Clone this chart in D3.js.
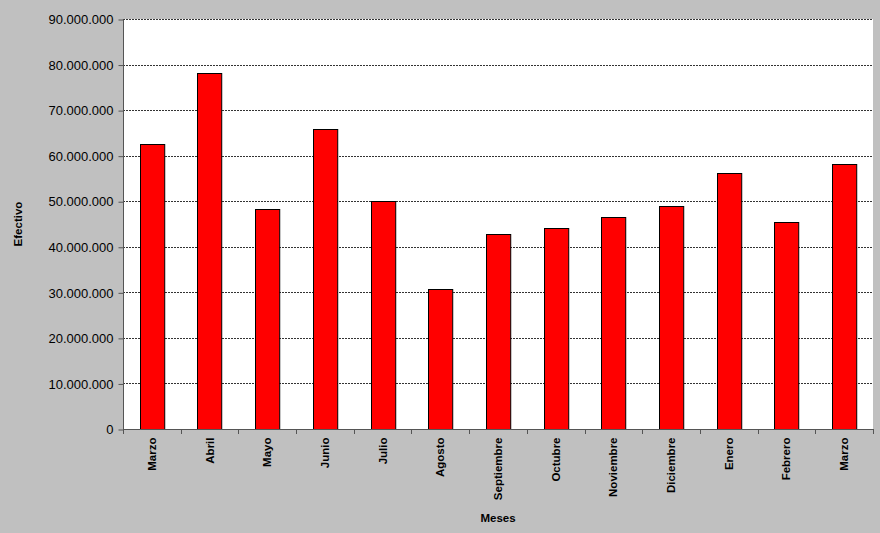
<!DOCTYPE html>
<html>
<head>
<meta charset="utf-8">
<script src="https://cdn.jsdelivr.net/npm/d3@7"></script>
<style>
body { margin: 0; background: #c0c0c0; }
svg { display: block; font-family: "Liberation Sans", Arial, sans-serif; }
</style>
</head>
<body>
<div id="chart"></div>
<script>
// months and values (Efectivo)
var meses = ['Marzo', 'Abril', 'Mayo', 'Junio', 'Julio', 'Agosto', 'Septiembre',
	'Octubre', 'Noviembre', 'Diciembre', 'Enero', 'Febrero', 'Marzo'];
var efectivo = [62600000, 78100000, 48400000, 65800000, 50000000, 30700000, 42800000,
	44100000, 46500000, 48900000, 56200000, 45400000, 58200000];
var yTicks = [0, 10000000, 20000000, 30000000, 40000000, 50000000, 60000000, 70000000, 80000000, 90000000];

var width = 880, height = 533;
var plotLeft = 123, plotRight = 873, plotTop = 19, plotBottom = 429;

var svg = d3.select('#chart').append('svg')
	.attr('width', width)
	.attr('height', height);

svg.append('rect')
	.attr('width', width)
	.attr('height', height)
	.style('fill', '#c0c0c0');

// plot area
svg.append('rect')
	.attr('x', plotLeft)
	.attr('y', plotTop)
	.attr('width', plotRight - plotLeft)
	.attr('height', plotBottom - plotTop)
	.style('fill', '#ffffff');

var x = d3.scaleBand()
	.domain(d3.range(meses.length))
	.range([plotLeft, plotRight])
	.paddingInner(0.58)
	.paddingOuter(0.29);

var xb = d3.scaleBand()
	.domain(d3.range(meses.length))
	.range([plotLeft, plotRight]);

var y = d3.scaleLinear()
	.domain([0, 90000000])
	.range([plotBottom, plotTop]);

var fmt = function(d) {
	return d3.format(',')(d).replace(/,/g, '.');
};

// gridlines
svg.append('g').selectAll('line')
	.data(yTicks.slice(1))
	.enter()
	.append('line')
	.attr('x1', plotLeft)
	.attr('x2', plotRight)
	.attr('y1', function(d) { return Math.round(y(d)) + 0.5; })
	.attr('y2', function(d) { return Math.round(y(d)) + 0.5; })
	.style('stroke', '#333')
	.style('stroke-width', 1)
	.style('stroke-dasharray', '2,1');

// bars
svg.append('g').selectAll('rect')
	.data(efectivo)
	.enter()
	.append('rect')
	.attr('x', function(d, i) { return Math.round(x(i)) + 0.5; })
	.attr('y', function(d) { return Math.round(y(d)) + 0.5; })
	.attr('width', x.bandwidth())
	.attr('height', function(d) { return plotBottom - Math.round(y(d)); })
	.style('fill', '#ff0000')
	.style('stroke', '#000')
	.style('stroke-width', 1);

// y axis
var yAxis = d3.axisLeft(y)
	.tickValues(yTicks)
	.tickFormat(fmt)
	.tickSize(5)
	.tickPadding(5);

var gy = svg.append('g')
	.attr('transform', 'translate(' + (plotLeft + 0.5) + ',0.5)')
	.call(yAxis);
gy.select('.domain').attr('d', 'M0,' + plotTop + 'V' + plotBottom).style('stroke', '#555');
gy.selectAll('.tick line').style('stroke', '#555');
gy.selectAll('.tick text')
	.style('font-size', '13px')
	.style('fill', '#000');

// x axis
var xAxis = d3.axisBottom(xb)
	.tickSize(0)
	.tickFormat(function(i) { return meses[i]; });

var gx = svg.append('g')
	.attr('transform', 'translate(0,' + (plotBottom + 0.5) + ')')
	.call(xAxis);
gx.select('.domain').attr('d', 'M' + plotLeft + ',0H' + plotRight).style('stroke', '#555');
gx.selectAll('.tick text')
	.attr('transform', 'rotate(-90)')
	.attr('x', -8)
	.attr('y', 0)
	.attr('dy', '0.35em')
	.style('text-anchor', 'end')
	.style('font-size', '11.5px')
	.style('font-weight', 'bold')
	.style('fill', '#000');

// boundary ticks
svg.append('g').selectAll('line')
	.data(d3.range(meses.length + 1))
	.enter()
	.append('line')
	.attr('x1', function(i) { return Math.round(plotLeft + i * xb.step()) + 0.5; })
	.attr('x2', function(i) { return Math.round(plotLeft + i * xb.step()) + 0.5; })
	.attr('y1', plotBottom)
	.attr('y2', plotBottom + 5)
	.style('stroke', '#555');

// axis titles
svg.append('text')
	.attr('transform', 'translate(22,' + ((plotTop + plotBottom) / 2) + ') rotate(-90)')
	.style('text-anchor', 'middle')
	.style('font-size', '11.5px')
	.style('font-weight', 'bold')
	.text('Efectivo');

svg.append('text')
	.attr('x', (plotLeft + plotRight) / 2)
	.attr('y', 522)
	.style('text-anchor', 'middle')
	.style('font-size', '11.5px')
	.style('font-weight', 'bold')
	.text('Meses');
</script>
</body>
</html>
